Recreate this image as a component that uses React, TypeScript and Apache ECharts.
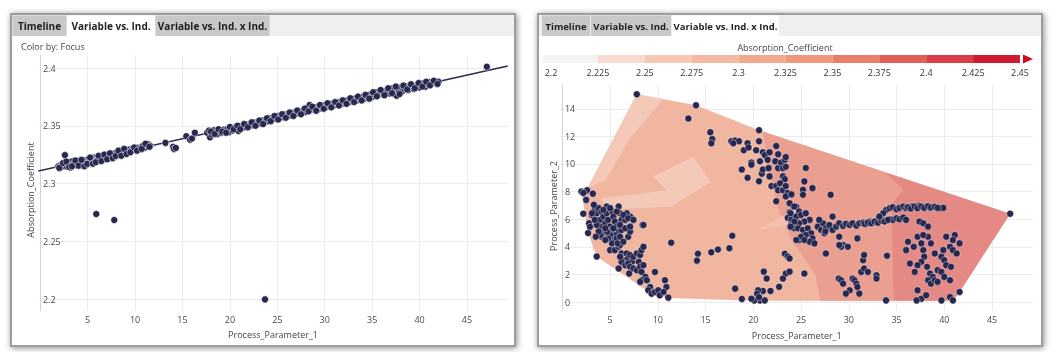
import React, { useEffect, useRef } from "react";
import * as echarts from "echarts";

// ---------- DATA ----------
// Left panel: Absorption_Coefficient vs Process_Parameter_1
const leftPoints: number[][] = [
  [1.9, 2.315], [2.1, 2.3158], [2.2, 2.3142], [2.3, 2.3165], [2.5, 2.3152], [2.6, 2.3246], [2.7, 2.317], [2.8, 2.3148],
  [2.9, 2.3175], [3.0, 2.316], [3.1, 2.3185], [3.2, 2.3139], [3.3, 2.317], [3.4, 2.3192], [3.5, 2.3165], [3.6, 2.318],
  [3.8, 2.3158], [3.9, 2.3188], [4.0, 2.3175], [4.1, 2.3196], [4.2, 2.317], [4.3, 2.316], [4.4, 2.3185], [4.5, 2.32],
  [4.6, 2.3172], [4.7, 2.319], [4.8, 2.3162], [4.9, 2.3205], [5.0, 2.3188], [5.1, 2.321], [5.2, 2.3195], [5.3, 2.318],
  [5.4, 2.3215], [5.5, 2.32], [5.6, 2.3222], [5.7, 2.319], [5.8, 2.3212], [5.9, 2.3228], [6.0, 2.3205], [6.1, 2.323],
  [6.2, 2.3215], [6.3, 2.3198], [6.4, 2.3235], [6.5, 2.322], [6.6, 2.324], [6.7, 2.321], [6.8, 2.3228], [6.9, 2.3245],
  [7.0, 2.3232], [7.2, 2.325], [7.3, 2.322], [7.4, 2.3238], [7.6, 2.3255], [7.7, 2.3235], [7.9, 2.3262], [8.0, 2.3245],
  [8.1, 2.327], [8.3, 2.325], [8.4, 2.3268], [8.5, 2.3282], [8.6, 2.3255], [8.8, 2.3275], [8.9, 2.3292], [9.0, 2.3262],
  [9.2, 2.328], [9.4, 2.3295], [9.6, 2.3285], [9.8, 2.33], [10.0, 2.329], [10.3, 2.331], [10.5, 2.33], [10.8, 2.3325],
  [11.0, 2.331], [11.2, 2.3335], [11.4, 2.334], [11.6, 2.3325],
  [13.2, 2.3352], [14.0, 2.3318], [14.1, 2.33], [14.3, 2.3308], [15.4, 2.341], [15.8, 2.338], [16.0, 2.339], [16.3, 2.344],
  [17.6, 2.344], [17.8, 2.3458], [17.9, 2.34], [18.1, 2.3425], [18.3, 2.346], [18.5, 2.3445],
  [18.7, 2.343], [18.9, 2.3455], [19.1, 2.344], [19.3, 2.3465], [19.5, 2.345], [19.7, 2.347], [19.9, 2.3445], [20.1, 2.3475],
  [20.3, 2.346], [20.5, 2.3485], [20.7, 2.347], [20.9, 2.3455], [21.0, 2.3495], [21.2, 2.348], [21.4, 2.3502], [21.6, 2.3488],
  [21.8, 2.351], [22.0, 2.3495], [22.2, 2.352], [22.4, 2.3505], [22.6, 2.3528], [22.8, 2.3512], [23.0, 2.3535], [23.2, 2.352],
  [23.4, 2.3545], [23.6, 2.353], [23.8, 2.3552], [24.0, 2.354], [24.2, 2.3565], [24.4, 2.355], [24.6, 2.3575], [24.8, 2.356],
  [25.0, 2.3585], [25.2, 2.3568], [25.4, 2.359], [25.6, 2.3575], [25.8, 2.3598], [26.0, 2.358], [26.2, 2.3605], [26.4, 2.359],
  [26.6, 2.3612], [26.8, 2.3595], [27.0, 2.362], [27.2, 2.3608], [27.4, 2.3625], [27.6, 2.3612], [27.8, 2.364], [28.0, 2.362],
  [28.2, 2.365], [28.4, 2.368], [28.6, 2.364], [28.8, 2.3655], [29.0, 2.3638], [29.2, 2.3662], [29.4, 2.3648], [29.6, 2.367],
  [29.8, 2.3655], [30.0, 2.3678], [30.2, 2.3662], [30.4, 2.3685], [30.6, 2.367], [30.8, 2.3692], [31.0, 2.3678], [31.2, 2.3698],
  [31.4, 2.3685], [31.6, 2.3705], [31.8, 2.369], [32.0, 2.3712], [32.2, 2.3698], [32.4, 2.372], [32.6, 2.3705], [32.8, 2.3728],
  [33.0, 2.3712], [33.2, 2.3735], [33.4, 2.372], [33.6, 2.3742], [33.8, 2.3728], [34.0, 2.375], [34.2, 2.3735], [34.4, 2.3758],
  [34.6, 2.3742], [34.8, 2.3768], [35.0, 2.375], [35.2, 2.3775], [35.4, 2.379], [35.6, 2.3762], [35.8, 2.3785], [36.0, 2.38],
  [36.2, 2.377], [36.4, 2.3795], [36.6, 2.3812], [36.8, 2.378], [37.0, 2.3805], [37.2, 2.3825], [37.4, 2.377], [37.6, 2.376],
  [37.8, 2.3815], [38.0, 2.3832], [38.2, 2.38], [38.4, 2.3822], [38.6, 2.384], [38.8, 2.3808], [39.0, 2.383], [39.2, 2.385],
  [39.4, 2.3818], [39.6, 2.384], [39.8, 2.3858], [40.0, 2.3832], [40.2, 2.3852], [40.4, 2.3868], [40.6, 2.3838], [40.8, 2.3862],
  [41.0, 2.3878], [41.2, 2.3855], [41.4, 2.3872], [41.6, 2.3885], [41.8, 2.3868], [42.0, 2.388],
  [2.0, 2.3135], [2.4, 2.3178], [2.75, 2.319], [3.05, 2.3145], [3.35, 2.315], [3.7, 2.32], [4.05, 2.3155], [4.35, 2.3205],
  [4.65, 2.315], [4.95, 2.317], [5.25, 2.3225], [5.55, 2.3172], [5.85, 2.3185], [6.15, 2.324], [6.45, 2.3195], [6.75, 2.325],
  [7.05, 2.321], [7.35, 2.3262], [7.65, 2.322], [7.95, 2.3238], [8.25, 2.3285], [8.55, 2.324], [8.85, 2.33], [9.1, 2.3255],
  [9.5, 2.327], [9.9, 2.3312], [10.2, 2.3285], [10.7, 2.33], [11.1, 2.3345], [11.5, 2.3318],
  [18.0, 2.345], [18.4, 2.343], [18.8, 2.347], [19.2, 2.345], [19.6, 2.344], [20.0, 2.349], [20.4, 2.347], [20.8, 2.35],
  [21.1, 2.347], [21.5, 2.3515], [21.9, 2.3488], [22.3, 2.353], [22.7, 2.35], [23.1, 2.3545], [23.5, 2.3515], [23.9, 2.3565],
  [24.3, 2.354], [24.7, 2.3585], [25.1, 2.3555], [25.5, 2.36], [25.9, 2.357], [26.3, 2.3615], [26.7, 2.3585], [27.1, 2.3632],
  [27.5, 2.36], [27.9, 2.365], [28.3, 2.3625], [28.7, 2.3665], [29.1, 2.363], [29.5, 2.368], [29.9, 2.3648], [30.3, 2.3695],
  [30.7, 2.366], [31.1, 2.3705], [31.5, 2.3675], [31.9, 2.372], [32.3, 2.369], [32.7, 2.3738], [33.1, 2.3705], [33.5, 2.3752],
  [33.9, 2.372], [34.3, 2.3768], [34.7, 2.3735], [35.1, 2.379], [35.5, 2.3755], [35.9, 2.381], [36.3, 2.3765], [36.7, 2.3825],
  [37.1, 2.3782], [37.5, 2.384], [37.9, 2.3775], [38.3, 2.3848], [38.7, 2.3815], [39.1, 2.386], [39.5, 2.3825], [39.9, 2.387],
  [40.3, 2.384], [40.7, 2.388], [41.1, 2.385], [41.5, 2.389], [41.9, 2.3862],
  [5.9, 2.2736], [7.8, 2.2684], [23.7, 2.1997], [47.1, 2.4011],
];
const trendIntercept = 2.3112;
const trendSlope = 0.001836;

// Right panel: Process_Parameter_2 vs Process_Parameter_1
const rightPoints: number[][] = [
  [7.8, 15.05], [14.0, 14.25], [13.2, 13.3], [15.5, 12.3], [15.7, 11.8], [15.6, 11.5], [20.6, 12.45], [20.6, 11.65],
  [17.7, 11.65], [18.1, 11.7], [18.5, 11.65], [17.9, 11.5], [19.0, 11.0], [19.4, 11.5], [19.5, 11.2],
  [19.8, 10.1], [19.8, 9.95], [18.8, 9.6], [19.4, 9.0], [20.6, 8.75], [20.9, 9.3], [21.0, 9.6], [20.7, 10.2], [20.3, 11.0],
  [21.0, 10.85], [21.2, 10.65], [21.5, 10.3], [21.7, 10.85], [21.6, 9.7], [21.7, 9.1], [21.9, 8.4], [22.4, 8.4], [22.3, 10.2],
  [22.6, 9.7], [22.4, 11.3], [22.6, 10.7], [22.9, 10.1], [23.1, 9.7], [23.3, 10.3], [23.4, 10.5], [23.4, 9.8], [23.1, 9.1],
  [23.3, 8.9], [22.8, 8.6], [22.6, 8.1], [23.1, 8.1], [23.4, 8.4], [23.6, 7.9], [23.4, 7.65], [24.0, 7.8], [22.4, 7.3],
  [24.2, 6.9], [24.5, 6.9], [23.8, 6.5], [24.2, 6.1], [24.5, 5.85], [24.0, 5.7], [24.3, 5.35], [24.7, 6.3], [23.6, 6.1],
  [24.0, 6.0], [24.8, 4.5], [23.3, 3.5], [23.6, 3.3], [23.8, 3.15], [23.4, 2.06], [23.8, 2.2], [23.1, 1.7],
  [22.7, 1.1], [21.8, 0.8], [21.1, 2.2], [21.4, 1.7], [21.0, 0.8], [20.5, 0.85], [20.4, 0.6], [20.7, 0.12], [20.1, 0.12],
  [19.8, 0.24], [21.2, 0.12], [20.6, 0.35], [18.8, 0.22], [18.1, 0.97],
  [17.8, 4.8], [17.5, 3.9], [16.3, 3.8], [15.6, 3.6], [14.2, 3.5], [14.1, 3.0], [11.4, 4.3],
  [2.0, 8.0], [2.4, 8.0], [2.6, 8.1], [2.2, 7.9], [2.5, 7.4], [3.2, 7.85], [2.2, 6.4], [3.1, 6.3], [2.8, 5.7], [2.7, 5.0],
  [3.6, 3.3], [2.9, 5.45],
  [3.4, 6.67], [3.6, 6.43], [3.8, 6.8], [3.95, 5.95], [4.1, 6.55], [4.3, 6.19], [4.5, 5.7], [3.95, 5.46], [3.6, 5.58],
  [4.65, 6.43], [4.8, 5.95], [5.0, 5.46], [5.2, 6.55], [5.35, 6.19], [5.5, 5.83], [5.7, 5.46], [5.9, 6.92], [6.05, 6.43],
  [6.2, 5.95], [5.9, 5.1], [5.5, 4.85], [5.35, 4.49], [5.2, 4.25], [5.0, 3.76], [5.5, 3.76], [5.9, 4.0], [6.05, 4.13],
  [6.2, 3.52], [6.4, 3.03], [6.74, 3.52], [6.9, 3.16], [7.1, 3.4], [7.3, 2.91], [7.45, 3.28], [7.8, 3.52], [8.15, 3.4],
  [8.3, 3.76], [8.5, 4.0], [8.4, 5.58], [7.1, 6.19], [6.74, 6.43], [6.6, 5.95], [5.7, 4.61], [5.8, 4.25], [6.05, 4.73],
  [6.4, 4.37], [6.9, 4.73], [7.1, 5.1], [6.2, 5.22], [5.2, 5.22], [5.0, 4.85], [4.8, 4.61], [4.3, 4.98], [4.1, 4.73],
  [4.5, 4.49], [4.7, 5.1], [4.0, 4.85], [3.8, 5.1], [3.5, 4.73], [4.65, 6.92], [4.3, 6.67], [3.3, 7.04], [5.0, 6.8],
  [5.7, 6.55], [6.4, 6.31], [6.9, 6.07], [7.45, 5.95], [5.35, 5.34], [4.5, 5.34], [6.05, 5.58], [6.6, 5.34], [7.1, 5.46],
  [3.4, 5.95], [3.1, 6.43],
  [5.9, 2.43], [6.2, 2.91], [6.6, 2.67], [6.9, 2.79], [7.1, 2.55], [7.45, 2.43], [7.8, 2.31], [8.0, 2.91], [8.15, 2.55],
  [8.3, 2.18], [8.5, 2.67], [8.7, 1.82], [8.3, 1.58], [8.15, 1.46], [8.85, 1.58], [9.2, 1.09], [9.0, 0.85], [9.7, 2.18],
  [9.35, 0.61], [9.7, 0.73], [10.05, 0.85], [10.2, 0.49], [10.75, 1.58], [10.9, 1.09], [10.6, 0.73], [11.1, 0.32],
  [7.0, 2.06], [8.5, 5.58], [6.05, 3.28],
  [25.5, 9.71], [25.35, 8.74], [25.2, 8.13], [26.2, 8.25], [25.2, 7.77], [28.1, 7.77], [23.8, 7.16], [24.3, 6.92], [24.8, 6.55],
  [23.9, 6.43], [24.5, 6.19], [25.0, 6.31], [25.5, 6.43], [25.9, 5.95], [25.35, 5.83], [24.8, 5.7], [24.3, 5.83], [23.9, 5.46],
  [24.7, 5.34], [25.2, 5.22], [25.7, 5.34], [26.05, 4.98], [25.5, 4.85], [25.0, 4.73], [24.5, 4.49], [26.2, 4.61], [25.9, 4.37],
  [26.4, 4.25], [25.35, 4.49],
  [26.75, 5.46], [27.1, 5.22], [27.3, 5.7], [27.6, 5.34], [27.97, 5.58], [28.3, 5.22], [28.67, 5.46], [29.0, 5.7], [29.4, 5.51],
  [29.7, 5.66], [30.1, 5.58], [30.4, 5.7], [30.8, 5.53], [31.1, 5.7], [31.5, 5.75], [31.8, 5.66], [32.2, 5.83], [32.5, 5.75],
  [32.9, 5.9], [33.2, 5.83], [33.6, 5.95], [33.9, 5.9], [34.3, 6.0], [34.6, 5.95], [35.0, 6.07], [35.3, 6.0], [35.7, 6.12],
  [36.0, 5.95], [31.65, 5.66], [32.0, 5.75], [32.35, 5.7], [32.7, 5.83], [33.05, 5.75], [33.4, 5.9], [33.75, 5.83], [34.1, 5.95],
  [26.9, 5.95], [27.45, 4.98], [29.0, 4.73], [29.4, 4.13], [29.9, 4.0], [30.9, 4.61], [27.6, 3.52], [27.55, 5.1], [28.3, 6.19],
  [33.9, 6.67], [34.3, 6.8], [34.6, 6.87], [35.0, 6.72], [35.3, 6.82], [35.7, 6.92], [36.0, 6.8], [36.4, 6.9], [36.7, 6.94],
  [37.1, 6.85], [37.4, 6.97], [37.8, 6.87], [38.1, 6.92], [38.5, 6.82], [38.8, 6.9], [39.2, 6.85], [39.5, 6.8], [39.9, 6.82],
  [36.2, 6.87], [36.5, 6.77], [36.9, 6.92], [37.2, 6.8], [37.6, 6.92], [37.9, 6.82], [38.3, 6.94], [38.6, 6.85], [39.0, 6.9],
  [39.3, 6.82], [33.6, 6.43], [33.2, 6.19],
  [37.4, 5.83], [37.8, 5.7], [38.3, 5.46],
  [36.2, 4.37], [36.8, 4.0], [37.2, 4.73], [37.6, 4.25], [37.8, 3.76], [37.9, 3.28], [37.6, 2.91], [37.2, 2.67], [36.9, 2.18],
  [36.4, 2.79], [36.0, 3.76], [38.2, 2.55], [38.5, 2.06], [38.8, 1.82], [38.3, 1.58], [38.6, 1.33], [39.0, 1.58], [39.3, 2.31],
  [39.7, 2.18], [40.0, 1.82], [40.6, 1.58], [40.2, 4.73], [40.6, 4.0], [40.9, 3.76], [41.3, 3.52], [41.6, 4.25], [41.1, 4.85],
  [40.9, 4.49], [39.9, 3.76], [39.7, 3.28], [40.0, 3.03], [40.2, 2.67], [40.7, 2.55], [39.0, 3.52], [38.6, 4.25], [38.3, 4.73],
  [37.8, 4.85], [37.2, 0.85], [37.6, 0.24], [38.1, 0.49], [39.7, 0.12], [40.6, 0.36], [40.9, 0.12], [41.6, 0.73], [37.1, 0.12],
  [39.3, 1.46],
  [28.95, 1.7], [29.2, 1.58], [29.4, 1.33], [30.4, 1.7], [30.6, 1.58], [30.8, 1.33], [30.9, 1.09], [30.1, 0.85], [29.7, 0.61],
  [31.1, 0.61], [31.3, 2.18], [31.6, 2.43], [32.0, 2.18], [32.9, 1.94], [32.9, 1.7], [31.5, 3.03], [31.6, 3.4], [29.2, 4.0],
  [29.0, 4.13], [34.0, 3.35], [33.9, 0.12], [25.35, 2.06],
  [46.9, 6.4],
];

// Contour regions of the right panel (Process_Parameter_1, Process_Parameter_2 vertices)
const hullRegion: number[][] = [
  [7.8, 15.05], [14.0, 14.25], [20.6, 12.45], [46.9, 6.4], [41.6, 0.73], [40.9, 0.1], [20.1, 0.1], [11.1, 0.3],
  [9.35, 0.6], [3.6, 3.3], [2.7, 5.0], [2.0, 8.0], [2.6, 8.2],
];
const lightRegionA: number[][] = [[7.8, 15.05], [10.6, 14.7], [7.0, 11.8], [4.6, 8.9], [2.6, 8.2]];
const lightRegionB: number[][] = [[4.1, 7.5], [10.9, 8.1], [9.5, 9.1], [13.7, 10.5], [15.6, 8.7], [11.3, 6.9], [4.6, 6.7]];
const mediumRegion: number[][] = [
  [21.0, 12.36], [33.8, 9.41], [35.7, 8.1], [34.6, 7.2], [34.5, 5.2], [34.7, 0.1], [27.0, 0.1], [26.5, 2.0],
  [24.0, 4.5], [22.5, 7.0], [21.5, 10.0],
];
const lightRegionC: number[][] = [[20.4, 5.2], [24.5, 6.8], [24.5, 5.7]];
const darkRegion: number[][] = [
  [33.8, 9.41], [46.9, 6.4], [41.6, 0.73], [40.9, 0.1], [34.7, 0.1], [34.5, 5.2], [34.6, 7.2], [35.7, 8.1],
];
const contourRegions = [hullRegion, lightRegionA, lightRegionB, mediumRegion, lightRegionC, darkRegion];
const contourColors = ["#f1b6a0", "#f5c9b8", "#f5c9b8", "#eb9f91", "#f3c0ae", "#e58985"];

// Colorbar
const colorbarBreaks = [2.2, 2.225, 2.25, 2.275, 2.3, 2.325, 2.35, 2.375, 2.4, 2.425, 2.45];
const colorbarColors = ["#f3f3f3", "#f9dacf", "#f7c8b6", "#f5b8a0", "#f2a88c", "#ee987e", "#e97f6b", "#e15f57", "#d93e47", "#cf1a33"];
const colorbarArrowColor = "#c90a24";

const tabLabels = ["Timeline", "Variable vs. Ind.", "Variable vs. Ind. x Ind."];

const FONT = "'Open Sans', 'DejaVu Sans', sans-serif";
const MARK = "#28274f";
const X_MIN = -0.2;
const X_MAX = 49.3;

function panel(x: number, w: number, tabXs: number[][], active: number, fontSize: number) {
  const els: any[] = [
    {
      type: "rect", z: -20, silent: true,
      shape: { x, y: 14, width: w, height: 332 },
      style: { fill: "#fff", stroke: "#9d9d9d", lineWidth: 2, shadowBlur: 6, shadowColor: "rgba(0,0,0,0.45)", shadowOffsetX: 1, shadowOffsetY: 1 },
    },
    {
      type: "rect", z: -19, silent: true,
      shape: { x: x + 1, y: 15, width: w - 2, height: 21 },
      style: { fill: "#efefef" },
    },
  ];
  tabXs.forEach((t, i) => {
    els.push({
      type: "rect", z: -18, silent: true,
      shape: { x: t[0], y: 15.5, width: t[1] - t[0], height: 20.5 },
      style: { fill: i === active ? "#ffffff" : "#c8c8c8" },
    });
    els.push({
      type: "text", z: 50, silent: true,
      x: (t[0] + t[1]) / 2, y: 26,
      style: { text: tabLabels[i], fill: "#1e1e1e", font: `bold ${fontSize}px ${FONT}`, align: "center", verticalAlign: "middle" },
    });
  });
  return els;
}

export default function App() {
  const ref = useRef<HTMLDivElement>(null);
  useEffect(() => {
    if (!ref.current) return;
    const chart = echarts.init(ref.current, null, { renderer: "svg" });

    const axisLabelStyle = { fontSize: 9, color: "#4a4a4a", fontFamily: FONT };
    const splitLineStyle = { color: "#ebebeb", width: 1 };

    const graphics: any[] = [
      ...panel(11, 504, [[12.5, 66.5], [67, 155], [155.5, 269.5]], 1, 10),
      ...panel(538, 504, [[542, 590], [591, 671], [672, 779]], 2, 9.5),
      {
        type: "text", z: 50, silent: true, x: 21, y: 46,
        style: { text: "Color by: Focus", fill: "#444", font: `9px ${FONT}`, align: "left", verticalAlign: "middle" },
      },
      {
        type: "text", z: 50, silent: true, x: 30, y: 190, rotation: Math.PI / 2,
        style: { text: "Absorption_Coefficient", fill: "#444", font: `9px ${FONT}`, align: "center", verticalAlign: "middle" },
      },
      {
        type: "text", z: 50, silent: true, x: 553, y: 206, rotation: Math.PI / 2,
        style: { text: "Process_Parameter_2", fill: "#444", font: `9px ${FONT}`, align: "center", verticalAlign: "middle" },
      },
      {
        type: "text", z: 50, silent: true, x: 785, y: 47,
        style: { text: "Absorption_Coefficient", fill: "#444", font: `9px ${FONT}`, align: "center", verticalAlign: "middle" },
      },
    ];

    const hideZero = (v: number) => (v === 0 ? "" : String(v));

    chart.setOption({
      animation: false,
      backgroundColor: "transparent",
      textStyle: { fontFamily: FONT },
      graphic: { elements: graphics },
      grid: [
        { left: 38.4, top: 55.3, width: 469.3, height: 255.3 },
        { left: 560.4, top: 85.3, width: 472.7, height: 225 },
        { left: 551, top: 55, width: 469, height: 8 },
      ],
      xAxis: [
        {
          type: "value", gridIndex: 0, min: X_MIN, max: X_MAX, splitNumber: 10, minInterval: 5, maxInterval: 5,
          axisLine: { show: false }, axisTick: { show: false },
          axisLabel: { ...axisLabelStyle, margin: 4, showMinLabel: false, showMaxLabel: false, formatter: hideZero },
          splitLine: { show: true, lineStyle: splitLineStyle, showMinLine: false, showMaxLine: false },
          name: "Process_Parameter_1", nameLocation: "middle", nameGap: 19,
          nameTextStyle: { fontSize: 9, color: "#444", fontFamily: FONT },
        },
        {
          type: "value", gridIndex: 1, min: X_MIN, max: X_MAX, splitNumber: 10, minInterval: 5, maxInterval: 5,
          axisLine: { show: false, onZero: false }, axisTick: { show: false },
          axisLabel: { ...axisLabelStyle, margin: 5, showMinLabel: false, showMaxLabel: false, formatter: hideZero },
          splitLine: { show: true, lineStyle: splitLineStyle, showMinLine: false, showMaxLine: false },
          name: "Process_Parameter_1", nameLocation: "middle", nameGap: 21,
          nameTextStyle: { fontSize: 9, color: "#444", fontFamily: FONT },
        },
        {
          type: "value", gridIndex: 2, min: 2.2, max: 2.45, interval: 0.025,
          axisLine: { show: false }, axisTick: { show: false }, splitLine: { show: false },
          axisLabel: { fontSize: 9, color: "#333", fontFamily: FONT, margin: 5 },
        },
      ],
      yAxis: [
        {
          type: "value", gridIndex: 0, min: 2.19, max: 2.411, splitNumber: 5, minInterval: 0.05, maxInterval: 0.05,
          axisLine: { show: true, onZero: true, lineStyle: { color: "#d4d4d4", width: 1 } }, axisTick: { show: false },
          axisLabel: { ...axisLabelStyle, inside: true, margin: 4.5, showMinLabel: false, showMaxLabel: false },
          splitLine: { show: true, lineStyle: splitLineStyle, showMinLine: false, showMaxLine: false },
        },
        {
          type: "value", gridIndex: 1, min: -0.6, max: 15.7, splitNumber: 8, minInterval: 2, maxInterval: 2,
          axisLine: { show: true, onZero: true, lineStyle: { color: "#d4d4d4", width: 1 } }, axisTick: { show: false },
          axisLabel: { ...axisLabelStyle, inside: true, margin: 4.5, showMinLabel: false, showMaxLabel: false },
          splitLine: { show: true, lineStyle: splitLineStyle, showMinLine: false, showMaxLine: false },
        },
        { type: "value", gridIndex: 2, min: 0, max: 1, show: false },
      ],
      series: [
        {
          type: "line", xAxisIndex: 0, yAxisIndex: 0, silent: true, z: 2,
          data: [
            [X_MIN, trendIntercept + trendSlope * X_MIN],
            [X_MAX, trendIntercept + trendSlope * X_MAX],
          ],
          showSymbol: false, symbol: "none",
          lineStyle: { color: "#2a2951", width: 1.4 },
        },
        {
          type: "scatter", xAxisIndex: 0, yAxisIndex: 0, silent: true, z: 3,
          data: leftPoints, symbolSize: 7,
          itemStyle: { color: MARK, borderColor: "#ffffff", borderWidth: 0.5, opacity: 1 },
        },
        {
          type: "custom", xAxisIndex: 1, yAxisIndex: 1, silent: true, z: 1,
          data: contourRegions.map((r) => r[0]),
          renderItem: (params: any, api: any) => {
            const pts = contourRegions[params.dataIndex].map((p) => api.coord(p));
            return { type: "polygon", shape: { points: pts }, style: { fill: contourColors[params.dataIndex] } };
          },
        },
        {
          type: "scatter", xAxisIndex: 1, yAxisIndex: 1, silent: true, z: 3,
          data: rightPoints, symbolSize: 7,
          itemStyle: { color: MARK, borderColor: "#ffffff", borderWidth: 0.4, opacity: 1 },
        },
        {
          type: "custom", xAxisIndex: 2, yAxisIndex: 2, silent: true, z: 2,
          data: colorbarBreaks.slice(0, -1).map((b, i) => [b, colorbarBreaks[i + 1]]),
          renderItem: (params: any, api: any) => {
            const a = api.coord([api.value(0), 1]);
            const b = api.coord([api.value(1), 0]);
            const i = params.dataIndex;
            const x0 = i === 0 ? a[0] - 8 : a[0];
            const rect = {
              type: "rect",
              shape: { x: x0, y: a[1], width: b[0] - x0, height: b[1] - a[1] },
              style: { fill: colorbarColors[i] },
            };
            if (i === colorbarColors.length - 1) {
              return {
                type: "group",
                children: [
                  rect,
                  {
                    type: "polygon",
                    shape: { points: [[b[0] + 3, a[1] - 0.5], [b[0] + 13, (a[1] + b[1]) / 2], [b[0] + 3, b[1] + 0.5]] },
                    style: { fill: colorbarArrowColor },
                  },
                ],
              };
            }
            return rect;
          },
        },
      ],
    });
    return () => chart.dispose();
  }, []);

  return <div ref={ref} style={{ position: "fixed", left: 0, top: 0, width: 1056, height: 352 }} />;
}
